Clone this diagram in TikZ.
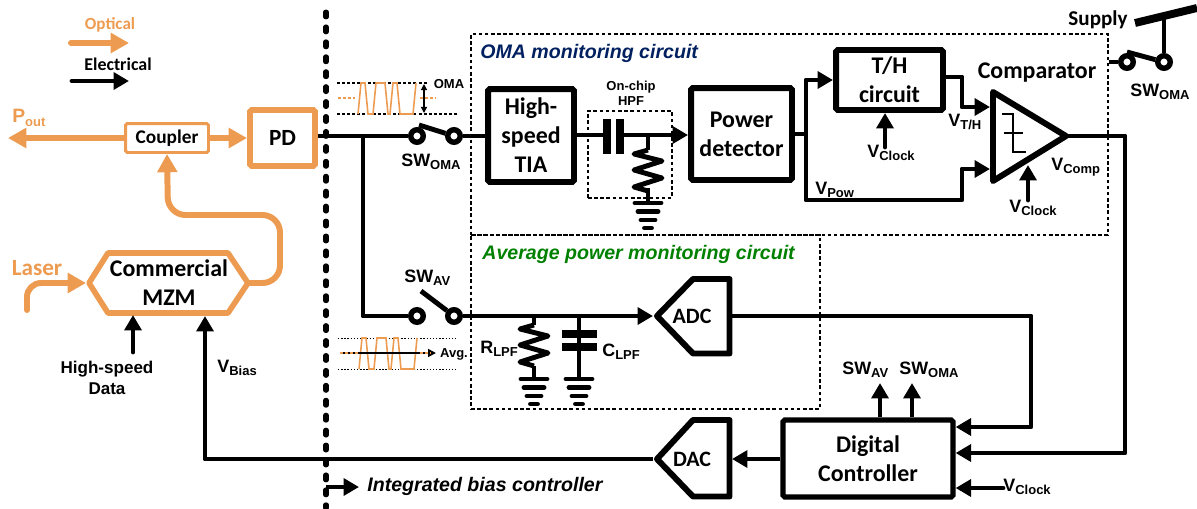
\documentclass[tikz,border=0pt]{standalone}
\usepackage{fontspec}
\setmainfont{Carlito}
\newfontfamily\armfont{Liberation Sans}
\usepackage{tikz}
\usetikzlibrary{arrows.meta}
\definecolor{optic}{RGB}{237,155,80}
\definecolor{omablue}{RGB}{0,32,96}
\definecolor{avgreen}{RGB}{0,128,0}
\newcommand{\sig}[2]{#1\raisebox{-0.35ex}{\fontsize{7.4}{8}\selectfont #2}}
\tikzset{
    wire/.style={line width=2.8pt, line join=round},
    elec/.style={wire, -{Triangle[length=8.8pt,width=9.6pt]}},
    opt/.style={color=optic, line width=3.4pt, line join=round, -{Triangle[length=10.4pt,width=11pt]}},
    blackbox/.style={draw, line width=3.4pt, rounded corners=1pt, align=center, inner sep=0pt, font=\bfseries\fontsize{13.6}{16.5}\selectfont},
    optbox/.style={draw=optic, line width=3.4pt, rounded corners=1pt, inner sep=0pt, font=\bfseries\fontsize{13.2}{16}\selectfont},
    dashbox/.style={draw, line width=0.9pt, dash pattern=on 2pt off 1.5pt, inner sep=0pt},
    term/.style={circle, draw, fill=white, line width=3.1pt, minimum size=0.25cm, inner sep=0pt},
    biglabel/.style={inner sep=0pt, align=center, font=\bfseries\fontsize{13.6}{16.5}\selectfont},
    siglabel/.style={inner sep=0pt, anchor=west, font=\armfont\bfseries\fontsize{10.2}{12}\selectfont},
    tinylabel/.style={inner sep=0pt, align=center, font=\armfont\bfseries\fontsize{7.4}{9}\selectfont},
    thinline/.style={line width=0.6pt, dash pattern=on 1.7pt off 1.2pt},
    wave/.pic={
        \draw[optic, line width=0.9pt] (0,0) -- (3,-31) -- (7,-31) -- (10,0) -- (15,0) -- (18,-31) -- (27,-31) -- (30,0) -- (32,0) -- (35,-31) -- (39,-31) -- (42,0) -- (55,0) -- (58,-31);
    },
    resist/.pic={
        \draw[wire, line join=round] (0,0) -- (-14,4) -- (14,11) -- (-14,20) -- (14,28) -- (-14,37) -- (0,41);
    },
    gnd/.pic={
        \draw[line width=2.8pt, line cap=round] (-13,0) -- (13,0);
        \draw[line width=2.8pt, line cap=round] (-10,8.5) -- (10,8.5);
        \draw[line width=2.8pt, line cap=round] (-7,17) -- (7,17);
        \draw[line width=2.8pt, line cap=round] (-3.5,25) -- (3.5,25);
    }
}

\begin{document}
\begin{tikzpicture}[x=0.02cm, y=-0.02cm]

    \useasboundingbox (0,0) rectangle (1197,508);

    \node[dashbox, minimum width=12.74cm, minimum height=4.02cm] (omabox) at (789.5,134.5) {};
    \node[dashbox, minimum width=6.98cm, minimum height=3.48cm] (avbox) at (645.5,322) {};
    \node[dashbox, minimum width=1.68cm, minimum height=1.74cm] (hpfbox) at (630,154.5) {};

    \coordinate (splitA) at (326,12);
    \coordinate (splitB) at (326,508);
    \draw[line width=2.85pt, line cap=round, dash pattern=on 2.8pt off 5.7pt] (splitA) -- (splitB);

    \node[inner sep=0pt, text=optic, font=\bfseries\fontsize{9.7}{12}\selectfont] (optlabel) at (110,24.5) {Optical};
    \coordinate (optA) at (71,43);
    \coordinate (optB) at (129,43);
    \draw[opt, line cap=round] (optA) -- (optB);
    \node[inner sep=0pt, font=\bfseries\fontsize{10.2}{12}\selectfont] (elelabel) at (118,64) {Electrical};
    \coordinate (eleA) at (72,81);
    \coordinate (eleB) at (129,81);
    \draw[elec, line cap=round] (eleA) -- (eleB);

    \node[optbox, line width=1.7pt, fill=white, minimum width=1.66cm, minimum height=0.58cm, font=\bfseries\fontsize{11}{13}\selectfont] (coupler) at (167,138) {Coupler};
    \node[optbox, fill=white, minimum width=1.3cm, minimum height=1.12cm] (pd) at (282.5,138) {PD};
    \coordinate (pouttip) at (8,138);
    \draw[opt] (coupler.west) -- (pouttip);
    \draw[opt] (coupler.east) -- (pd.west);
    \node[inner sep=0pt, anchor=west, text=optic, font=\armfont\bfseries\fontsize{11}{13}\selectfont] (pout) at (12,118) {\sig{P}{out}};

    \coordinate (mzmW) at (89,283);
    \coordinate (mzmE) at (248,283);
    \draw[color=optic, line width=3.2pt, line join=round] (mzmW) -- (108,253) -- (228,253) -- (mzmE) -- (228,313) -- (108,313) -- cycle;
    \node[biglabel] (mzm) at (169,283) {Commercial\\MZM};
    \node[inner sep=0pt, text=optic, font=\bfseries\fontsize{13.2}{16}\selectfont] (laser) at (37,268) {Laser};
    \coordinate (laserA) at (27,310);
    \coordinate (laserB) at (86,283);
    \draw[opt, line cap=round, rounded corners=8pt] (laserA) |- (laserB);
    \coordinate (bendA) at (280,283);
    \coordinate (bendB) at (280,215);
    \coordinate (bendC) at (168,215);
    \draw[opt, rounded corners=10pt] (mzmE) -- (bendA) -- (bendB) -- (bendC) -- (coupler.south);

    \coordinate (datatip) at (133,315);
    \coordinate (datafoot) at (133,352);
    \draw[elec, line cap=round] (datafoot) -- (datatip);
    \node[tinylabel, font=\armfont\bfseries\fontsize{9.7}{12}\selectfont] (data) at (107,377.5) {High-speed\\Data};
    \node[siglabel] (vbias) at (217,368) {\sig{V}{Bias}};

    \node[term] (swomaL) at (417,136) {};
    \node[term] (swomaR) at (454,136) {};
    \coordinate (armoma) at (419,125);
    \draw[wire] (armoma) -- (swomaR);
    \draw[wire] (swomaL -| pd.east) -- (swomaL);
    \node[siglabel] (swomalabel) at (401,162) {\sig{SW}{OMA}};

    \coordinate (tap) at (363,136);
    \node[term] (swavL) at (417,316) {};
    \node[term] (swavR) at (454,316) {};
    \coordinate (armav) at (421,291);
    \draw[wire] (armav) -- (swavR);
    \draw[wire] (tap) |- (swavL);
    \node[siglabel] (swavlabel) at (404,278) {\sig{SW}{AV}};

    \coordinate (omaA) at (337,83);
    \coordinate (omaB) at (427,83);
    \coordinate (omaC) at (337,114);
    \coordinate (omaD) at (459,114);
    \draw[thinline] (omaA) -- (omaB);
    \draw[thinline] (omaC) -- (omaD);
    \pic at (358,114) {wave};
    \coordinate (midA) at (338,98);
    \coordinate (midB) at (355,98);
    \coordinate (midC) at (420,98);
    \coordinate (midD) at (436,98);
    \draw[optic, thinline] (midA) -- (midB);
    \draw[optic, thinline] (midC) -- (midD);
    \coordinate (omaE) at (424,84);
    \coordinate (omaF) at (424,113);
    \draw[line width=0.7pt, {Triangle[length=3.5pt,width=3.5pt]}-{Triangle[length=3.5pt,width=3.5pt]}] (omaE) -- (omaF);
    \node[tinylabel] (omalabel) at (449,84) {OMA};

    \coordinate (avgA) at (338,338);
    \coordinate (avgB) at (457,338);
    \coordinate (avgC) at (338,369);
    \coordinate (avgD) at (457,369);
    \draw[thinline, line width=0.5pt, dash pattern=on 0.8pt off 1pt] (avgA) -- (avgB);
    \draw[thinline, line width=0.5pt, dash pattern=on 0.8pt off 1pt] (avgC) -- (avgD);
    \pic at (359,369) {wave};
    \coordinate (avgE) at (340,353);
    \coordinate (avgF) at (436,353);
    \coordinate (avgG) at (358,353);
    \coordinate (avgH) at (420,353);
    \coordinate (avgI) at (431,353);
    \draw[line width=0.9pt, -{Triangle[length=4.5pt,width=4.5pt]}] (avgE) -- (avgF);
    \draw[optic, thinline] (avgE) -- (avgG);
    \draw[optic, thinline] (avgH) -- (avgI);
    \node[tinylabel] (avglabel) at (454,354) {Avg.};

    \node[blackbox, fill=white, minimum width=1.72cm, minimum height=1.86cm] (tia) at (531,135.5) {High-\\speed\\TIA};
    \draw[wire] (swomaR) -- (swomaR -| tia.west);
    \node[tinylabel, font=\armfont\bfseries\fontsize{7.4}{8.7}\selectfont] (hpflabel) at (631,93.5) {On-chip\\HPF};
    \node[blackbox, fill=white, minimum width=2.02cm, minimum height=1.84cm] (pdet) at (741.5,134) {Power\\detector};

    \coordinate (capA) at (607,135);
    \coordinate (capB) at (620,135);
    \coordinate (hpfjoin) at (648,135);
    \draw[wire] (tia.east |- capA) -- (capA);
    \draw[elec] (capB) -- (pdet.west |- capB);
    \draw[line width=4pt] (607,119) -- (607,154);
    \draw[line width=4pt] (620,119) -- (620,154);
    \coordinate (hpfgnd) at (648,203);
    \draw[wire] (hpfjoin) -- (hpfgnd);
    \fill[white] (634,150) rectangle (663,188);
    \pic at (648,150) {resist};
    \pic at (648,203) {gnd};

    \node[blackbox, fill=white, minimum width=2.14cm, minimum height=1.2cm] (th) at (889.5,80) {T/H\\circuit};
    \coordinate (powjoin) at (806,134);
    \coordinate (powdown) at (806,200);
    \draw[wire] (pdet.east) -- (powjoin);
    \draw[elec] (powjoin) |- (th.west);
    \node[siglabel] (vpow) at (815,190) {\sig{V}{Pow}};
    \coordinate (cmpN) at (990,107);
    \coordinate (cmpP) at (990,169);
    \coordinate (cmpT) at (993,92);
    \coordinate (cmpB) at (993,181);
    \coordinate (cmpO) at (1066,136);
    \draw[elec] (powjoin) -- (powdown) -- (962,200) -- (962,169) -- (cmpP);
    \draw[elec] (th.east |- 0,77) -- (962,77) -- (962,107) -- (cmpN);
    \draw[line width=3.4pt, line join=round] (cmpT) -- (cmpO) -- (cmpB) -- cycle;
    \draw[line width=1pt] (1002,114) -- (1013,114) -- (1013,152) -- (1026,152);
    \draw[line width=1pt] (1004,133) -- (1023,133);
    \node[biglabel] (cmplabel) at (1037,73) {Comparator};
    \node[siglabel] (vth) at (948,122) {\sig{V}{T/H}};
    \node[siglabel] (vcomp) at (1051,167) {\sig{V}{Comp}};

    \coordinate (clkA) at (885,147);
    \draw[elec, line cap=round] (clkA) -- (th.south -| clkA);
    \node[siglabel] (vclkA) at (867,153) {\sig{V}{Clock}};
    \coordinate (clkB) at (1028,200);
    \coordinate (clkBtip) at (1028,165);
    \draw[elec, line cap=round] (clkB) -- (clkBtip);
    \node[siglabel] (vclkB) at (1009,208) {\sig{V}{Clock}};

    \coordinate (supL) at (1135,23);
    \coordinate (supR) at (1197,8);
    \draw[line width=4.5pt] (supL) -- (supR);
    \node[inner sep=0pt, font=\bfseries\fontsize{12}{14}\selectfont] (supply) at (1098,20) {Supply};
    \node[term] (swsupL) at (1127,62) {};
    \node[term] (swsupR) at (1164,62) {};
    \coordinate (supT) at (1164,17);
    \coordinate (armsup) at (1127,52);
    \draw[wire] (supT) -- (swsupR);
    \draw[wire] (armsup) -- (swsupR);
    \draw[wire] (omabox.east |- swsupL) -- (swsupL);
    \node[siglabel] (swsuplabel) at (1130,92) {\sig{SW}{OMA}};

    \coordinate (adcW) at (653,316);
    \draw[line width=3.4pt, line join=round] (657,316) -- (693,279) -- (729.5,279) -- (729.5,353.5) -- (693,353.5) -- cycle;
    \node[biglabel, font=\bfseries\fontsize{12.5}{15}\selectfont] (adc) at (692,316) {ADC};
    \coordinate (adcE) at (732,316);
    \draw[elec] (swavR) -- (adcW);
    \coordinate (dacW) at (653,459);
    \coordinate (dacE) at (732,459);
    \draw[line width=3.4pt, line join=round] (657,459) -- (693,420) -- (729.5,420) -- (729.5,496.5) -- (693,496.5) -- cycle;
    \node[biglabel, font=\bfseries\fontsize{12.5}{15}\selectfont] (dac) at (692,459) {DAC};

    \pic at (534,325) {resist};
    \coordinate (rtop) at (534,316);
    \coordinate (rA) at (534,325);
    \coordinate (rB) at (534,366);
    \coordinate (rC) at (534,379);
    \draw[wire] (rtop) -- (rA);
    \draw[wire] (rB) -- (rC);
    \pic at (534,379) {gnd};
    \node[siglabel] (rlpf) at (480,349) {\sig{R}{LPF}};
    \coordinate (ctop) at (579,316);
    \coordinate (cbot) at (579,379);
    \draw[wire] (ctop) -- (cbot);
    \draw[line width=4pt] (562,334) -- (597,334);
    \draw[line width=4pt] (562,347) -- (597,347);
    \pic at (579,379) {gnd};
    \node[siglabel] (clpf) at (602,352) {\sig{C}{LPF}};

    \node[blackbox, line width=3pt, fill=white, minimum width=3.4cm, minimum height=1.54cm] (ctrl) at (868,458.5) {Digital\\Controller};
    \draw[elec] (ctrl.west |- dacE) -- (dacE);
    \coordinate (biasA) at (205,459);
    \coordinate (biasB) at (205,316);
    \draw[elec] (dacW) -- (biasA) -- (biasB);
    \coordinate (adcA) at (1031,316);
    \coordinate (adcB) at (1031,427);
    \draw[elec] (adcE) -- (adcA) -- (adcB) -- (adcB -| ctrl.east);
    \coordinate (cmpA) at (1125,136);
    \coordinate (cmpC) at (1125,453);
    \draw[elec] (cmpO) -- (cmpA) -- (cmpC) -- (cmpC -| ctrl.east);
    \coordinate (clkC) at (1003,488);
    \draw[elec, line cap=round] (clkC) -- (clkC -| ctrl.east);
    \node[siglabel] (vclkC) at (1003,487) {\sig{V}{Clock}};

    \coordinate (upA) at (880,383);
    \coordinate (upB) at (912,383);
    \draw[elec] (upA |- ctrl.north) -- (upA);
    \draw[elec] (upB |- ctrl.north) -- (upB);
    \node[siglabel] (swavtop) at (842,370) {\sig{SW}{AV}};
    \node[siglabel] (swomatop) at (899,370) {\sig{SW}{OMA}};

    \node[inner sep=0pt, anchor=west, text=omablue, font=\armfont\bfseries\itshape\fontsize{11.15}{13}\selectfont] (omatitle) at (480,53.5) {OMA monitoring circuit};
    \node[inner sep=0pt, anchor=west, text=avgreen, font=\armfont\bfseries\itshape\fontsize{11.15}{13}\selectfont] (avtitle) at (482,254.5) {Average power monitoring circuit};
    \coordinate (icA) at (326,487);
    \coordinate (icB) at (359,487);
    \draw[elec] (icA) -- (icB);
    \node[inner sep=0pt, anchor=west, font=\armfont\bfseries\itshape\fontsize{11.15}{13}\selectfont] (ictitle) at (367,486.5) {Integrated bias controller};

\end{tikzpicture}
\end{document}
